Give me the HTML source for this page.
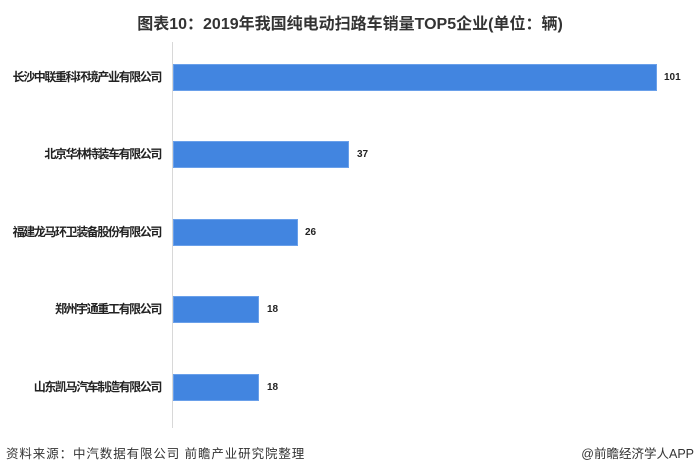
<!DOCTYPE html>
<html><head><meta charset="utf-8"><style>
body{margin:0;width:700px;height:472px;background:#fff;position:relative;overflow:hidden;font-family:"Liberation Sans","Noto Sans CJK SC",sans-serif;color:#222}
.t{position:absolute;top:10px;left:0;width:700px;text-align:center;font-size:16px;font-weight:bold;color:#333}
.ax{position:absolute;left:172px;top:42px;width:1px;height:386px;background:#d8d8d8}
.b{position:absolute;left:173px;height:27px;background:#4285e0;box-shadow:inset 0 0 0 1px #6aa0ea}
.l{position:absolute;right:539px;font-size:12px;font-weight:bold;line-height:27px;white-space:nowrap;letter-spacing:-1.4px}
.v{position:absolute;font-size:10px;font-weight:bold;line-height:27px}
.f{position:absolute;top:443px;font-size:12.5px;color:#333}
</style></head><body>
<div class="t">图表10：2019年我国纯电动扫路车销量TOP5企业(单位：辆)</div>
<div class="ax"></div>
<div class="b" style="top:64px;width:484px"></div><div class="l" style="top:64px">长沙中联重科环境产业有限公司</div><div class="v" style="top:64px;left:664px">101</div>
<div class="b" style="top:141px;width:176px"></div><div class="l" style="top:141px">北京华林特装车有限公司</div><div class="v" style="top:141px;left:357px">37</div>
<div class="b" style="top:219px;width:125px"></div><div class="l" style="top:219px">福建龙马环卫装备股份有限公司</div><div class="v" style="top:219px;left:305px">26</div>
<div class="b" style="top:296px;width:86px"></div><div class="l" style="top:296px">郑州宇通重工有限公司</div><div class="v" style="top:296px;left:267px">18</div>
<div class="b" style="top:374px;width:86px"></div><div class="l" style="top:374px">山东凯马汽车制造有限公司</div><div class="v" style="top:374px;left:267px">18</div>
<div class="f" style="left:6px;letter-spacing:0.9px">资料来源：中汽数据有限公司 前瞻产业研究院整理</div>
<div class="f" style="right:6px">@前瞻经济学人APP</div>
</body></html>
